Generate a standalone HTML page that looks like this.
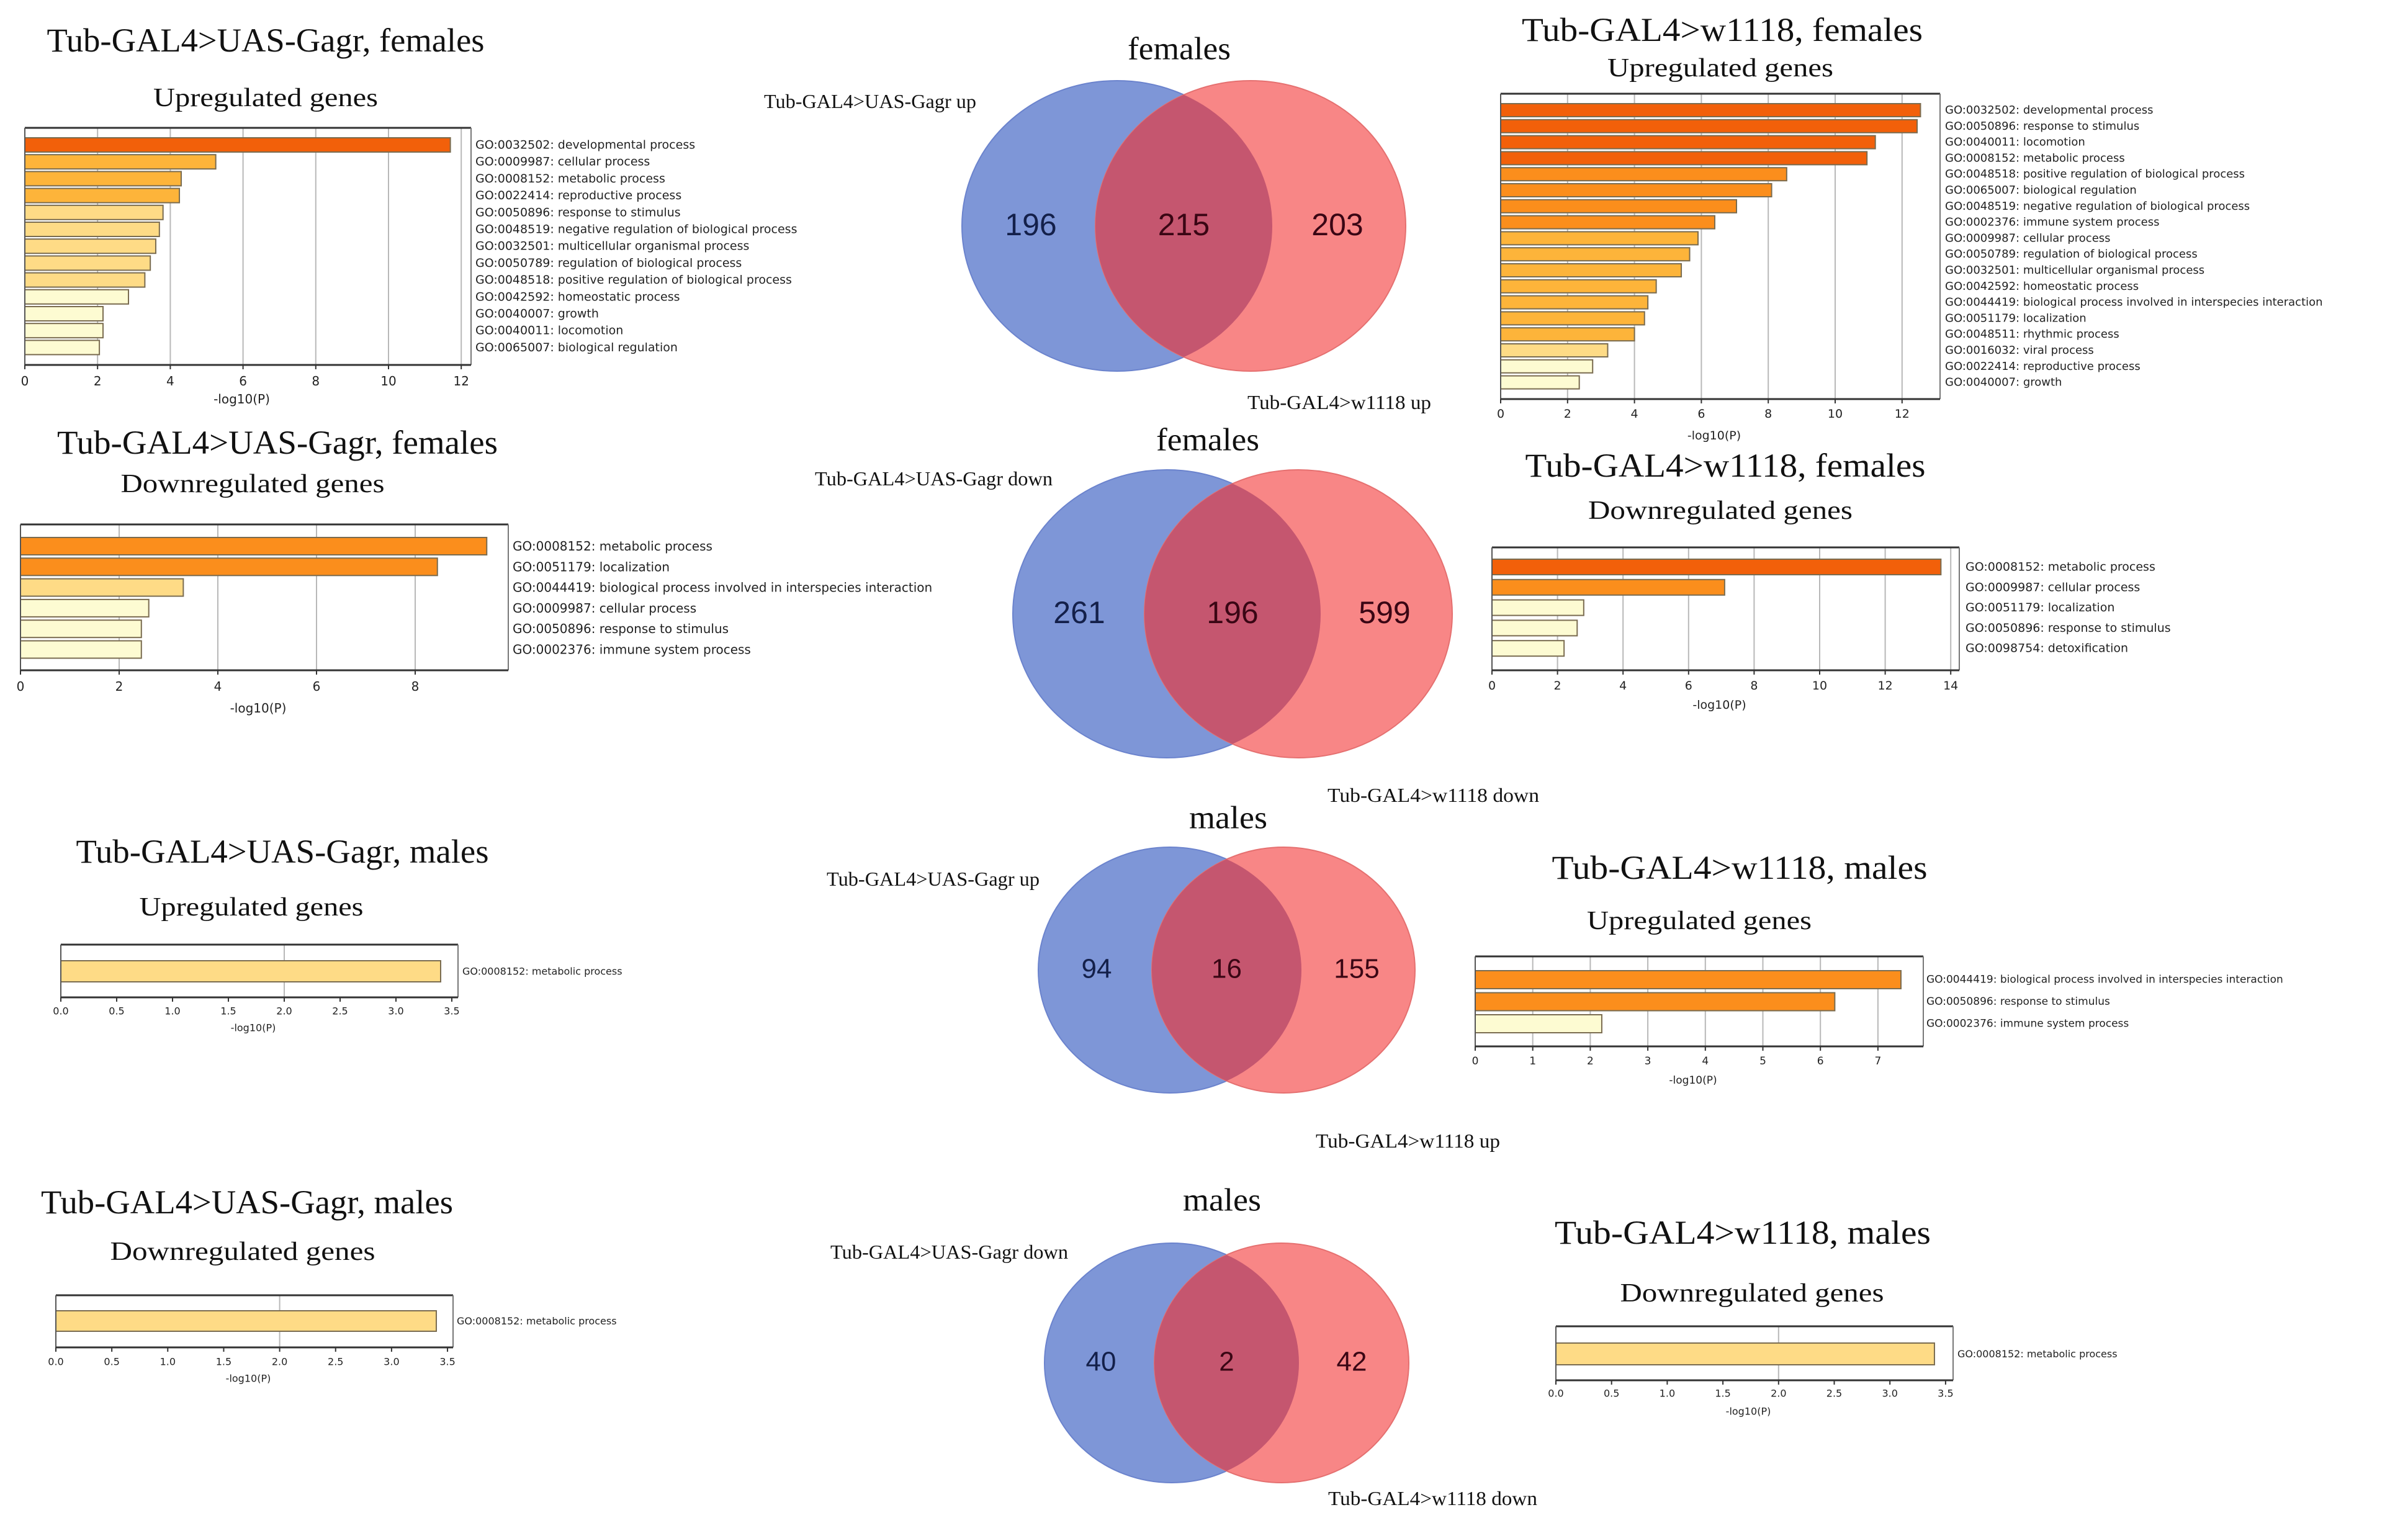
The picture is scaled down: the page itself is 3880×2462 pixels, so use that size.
<!DOCTYPE html>
<html><head><meta charset="utf-8">
<style>
html,body{margin:0;padding:0;background:#fff;}
svg{display:block;}
</style></head>
<body>
<svg id="fig" width="3880" height="2462" viewBox="0 0 3880 2462" xmlns="http://www.w3.org/2000/svg">
<rect width="3880" height="2462" fill="#fff"/>
<defs>
<clipPath id="c1"><ellipse cx="1800" cy="364" rx="250" ry="234"/></clipPath>
<clipPath id="c2"><ellipse cx="1880" cy="989" rx="248" ry="232"/></clipPath>
<clipPath id="c3"><ellipse cx="1885" cy="1563" rx="212" ry="198"/></clipPath>
<clipPath id="c4"><ellipse cx="1888" cy="2196" rx="205" ry="193"/></clipPath>
</defs>
</svg>
<script>
// ===== Data arrays =====
const p1Terms = ["GO:0032502: developmental process","GO:0009987: cellular process","GO:0008152: metabolic process","GO:0022414: reproductive process","GO:0050896: response to stimulus","GO:0048519: negative regulation of biological process","GO:0032501: multicellular organismal process","GO:0050789: regulation of biological process","GO:0048518: positive regulation of biological process","GO:0042592: homeostatic process","GO:0040007: growth","GO:0040011: locomotion","GO:0065007: biological regulation"];
const p1Values = [11.7,5.25,4.3,4.25,3.8,3.7,3.6,3.45,3.3,2.85,2.15,2.15,2.05];
const p1Ticks = [0,2,4,6,8,10,12];
const p1TickLabels = ["0","2","4","6","8","10","12"];

const p2Terms = ["GO:0032502: developmental process","GO:0050896: response to stimulus","GO:0040011: locomotion","GO:0008152: metabolic process","GO:0048518: positive regulation of biological process","GO:0065007: biological regulation","GO:0048519: negative regulation of biological process","GO:0002376: immune system process","GO:0009987: cellular process","GO:0050789: regulation of biological process","GO:0032501: multicellular organismal process","GO:0042592: homeostatic process","GO:0044419: biological process involved in interspecies interaction","GO:0051179: localization","GO:0048511: rhythmic process","GO:0016032: viral process","GO:0022414: reproductive process","GO:0040007: growth"];
const p2Values = [12.55,12.45,11.2,10.95,8.55,8.1,7.05,6.4,5.9,5.65,5.4,4.65,4.4,4.3,4.0,3.2,2.75,2.35];
const p2Ticks = [0,2,4,6,8,10,12];
const p2TickLabels = ["0","2","4","6","8","10","12"];

const p3Terms = ["GO:0008152: metabolic process","GO:0051179: localization","GO:0044419: biological process involved in interspecies interaction","GO:0009987: cellular process","GO:0050896: response to stimulus","GO:0002376: immune system process"];
const p3Values = [9.45,8.45,3.3,2.6,2.45,2.45];
const p3Ticks = [0,2,4,6,8];
const p3TickLabels = ["0","2","4","6","8"];

const p4Terms = ["GO:0008152: metabolic process","GO:0009987: cellular process","GO:0051179: localization","GO:0050896: response to stimulus","GO:0098754: detoxification"];
const p4Values = [13.7,7.1,2.8,2.6,2.2];
const p4Ticks = [0,2,4,6,8,10,12,14];
const p4TickLabels = ["0","2","4","6","8","10","12","14"];

const p5Terms = ["GO:0008152: metabolic process"];
const p5Values = [3.4];
const p5Ticks = [0,0.5,1,1.5,2,2.5,3,3.5];
const p5TickLabels = ["0.0","0.5","1.0","1.5","2.0","2.5","3.0","3.5"];

const p6Terms = ["GO:0044419: biological process involved in interspecies interaction","GO:0050896: response to stimulus","GO:0002376: immune system process"];
const p6Values = [7.4,6.25,2.2];
const p6Ticks = [0,1,2,3,4,5,6,7];
const p6TickLabels = ["0","1","2","3","4","5","6","7"];

const p7Terms = ["GO:0008152: metabolic process"];
const p7Values = [3.4];
const p7Ticks = [0,0.5,1,1.5,2,2.5,3,3.5];
const p7TickLabels = ["0.0","0.5","1.0","1.5","2.0","2.5","3.0","3.5"];

const p8Terms = ["GO:0008152: metabolic process"];
const p8Values = [3.4];
const p8Ticks = [0,0.5,1,1.5,2,2.5,3,3.5];
const p8TickLabels = ["0.0","0.5","1.0","1.5","2.0","2.5","3.0","3.5"];

const vennCounts1 = [196,215,203];
const vennCounts2 = [261,196,599];
const vennCounts3 = [94,16,155];
const vennCounts4 = [40,2,42];

// ===== Helpers =====
const NS = "http://www.w3.org/2000/svg";
const svg = document.getElementById('fig');
function mk(tag, attrs, parent){
  const e = document.createElementNS(NS, tag);
  for (const k in attrs) e.setAttribute(k, attrs[k]);
  (parent||svg).appendChild(e);
  return e;
}
function txt(parent, x, y, s, size, family, anchor, width, fill){
  const t = mk('text', {x:x, y:y, 'font-size':size, 'font-family':family, 'text-anchor':anchor||'start', 'dominant-baseline':'central', fill:fill||'#111'}, parent);
  if (width){ t.setAttribute('textLength', width); t.setAttribute('lengthAdjust','spacingAndGlyphs'); }
  t.textContent = s;
  return t;
}
function barColor(v){
  if (v >= 10) return '#f2600a';
  if (v >= 6) return '#fb8e1c';
  if (v >= 4) return '#fdb43a';
  if (v >= 3) return '#fedb86';
  return '#fdfbd2';
}
const SERIF = '"Liberation Serif", serif';
const SANS = '"DejaVu Sans", "Liberation Sans", sans-serif';

function drawPanel(name, cfg, terms, values, ticks, tickLabels){
  const g = mk('g', {});
  
  
  const tt = txt(g, cfg.tx, cfg.ty, cfg.title, cfg.tfs, SERIF, 'middle', cfg.tw);
  
  
  const st = txt(g, cfg.sx, cfg.sy, cfg.sub, cfg.sfs, SERIF, 'middle', cfg.sw);
  
  
  const unit = cfg.unit;
  const xs = v => cfg.x0 + v * unit;
  ticks.forEach((t, i) => {
    if (!cfg.gridOnly || cfg.gridOnly.indexOf(t) >= 0){
      const gl = mk('line', {x1:xs(t), x2:xs(t), y1:cfg.y0, y2:cfg.y1, stroke:'#b8b8b8', 'stroke-width':2}, g);
      
      
    }
    mk('line', {x1:xs(t), x2:xs(t), y1:cfg.y1, y2:cfg.y1+7, stroke:'#333', 'stroke-width':2}, g);
    const tl = txt(g, xs(t), cfg.tickY, tickLabels[i], cfg.tickFs, SANS, 'middle', null, '#222');
    
    
  });
  values.forEach((v, i) => {
    const top = cfg.barTop + i * cfg.pitch;
    const r = mk('rect', {x:cfg.x0, y:top, width:Math.max(0, xs(v)-cfg.x0), height:cfg.barH, fill:barColor(v), stroke:'#7a6c50', 'stroke-width':2}, g);
    
    
    const lab = txt(g, cfg.labelX, top + cfg.barH/2, terms[i], cfg.labelFs, SANS, 'start', null, '#222');
    
    
  });
  mk('line', {x1:cfg.x0, x2:cfg.x1, y1:cfg.y0, y2:cfg.y0, stroke:'#333', 'stroke-width':3}, g);
  mk('line', {x1:cfg.x1, x2:cfg.x1, y1:cfg.y0, y2:cfg.y1, stroke:'#777', 'stroke-width':2}, g);
  mk('line', {x1:cfg.x0, x2:cfg.x0, y1:cfg.y0, y2:cfg.y1, stroke:'#555', 'stroke-width':2}, g);
  mk('line', {x1:cfg.x0, x2:cfg.x1, y1:cfg.y1, y2:cfg.y1, stroke:'#333', 'stroke-width':3}, g);
  const xl = txt(g, (cfg.x0+cfg.x1)/2 - 10, cfg.xlY, '-log10(P)', cfg.tickFs, SANS, 'middle', null, '#222');
  
  
}

drawPanel('panel-gagr-females-up', {title:'Tub-GAL4>UAS-Gagr, females', tx:428, ty:65, tw:705, tfs:54, sub:'Upregulated genes', sx:428, sy:158, sw:362, sfs:42,
  x0:40, x1:759, y0:206, y1:588, unit:58.6, barTop:222, pitch:27.2, barH:23, labelX:766, labelFs:19, tickY:614, tickFs:20, xlY:643}, p1Terms, p1Values, p1Ticks, p1TickLabels);
drawPanel('panel-w1118-females-up', {title:'Tub-GAL4>w1118, females', tx:2775, ty:48, tw:646, tfs:54, sub:'Upregulated genes', sx:2772, sy:110, sw:364, sfs:42,
  x0:2418, x1:3126, y0:151, y1:643, unit:53.9, barTop:167, pitch:25.8, barH:21, labelX:3134, labelFs:18, tickY:667, tickFs:19, xlY:702}, p2Terms, p2Values, p2Ticks, p2TickLabels);
drawPanel('panel-gagr-females-down', {title:'Tub-GAL4>UAS-Gagr, females', tx:447, ty:713, tw:710, tfs:54, sub:'Downregulated genes', sx:407, sy:780, sw:425, sfs:42,
  x0:33, x1:819, y0:845, y1:1080, unit:79.5, barTop:866, pitch:33.3, barH:28, labelX:826, labelFs:20, tickY:1106, tickFs:20, xlY:1141}, p3Terms, p3Values, p3Ticks, p3TickLabels);
drawPanel('panel-w1118-females-down', {title:'Tub-GAL4>w1118, females', tx:2780, ty:750, tw:645, tfs:54, sub:'Downregulated genes', sx:2772, sy:823, sw:426, sfs:42,
  x0:2404, x1:3157, y0:882, y1:1080, unit:52.8, barTop:901, pitch:32.8, barH:25, labelX:3167, labelFs:19, tickY:1105, tickFs:19, xlY:1136}, p4Terms, p4Values, p4Ticks, p4TickLabels);
drawPanel('panel-gagr-males-up', {title:'Tub-GAL4>UAS-Gagr, males', tx:455, ty:1372, tw:665, tfs:54, sub:'Upregulated genes', sx:405, sy:1462, sw:361, sfs:42, gridOnly:[2],
  x0:98, x1:738, y0:1522, y1:1607, unit:180, barTop:1548, pitch:34, barH:34, labelX:745, labelFs:16, tickY:1629, tickFs:16, xlY:1656}, p5Terms, p5Values, p5Ticks, p5TickLabels);
drawPanel('panel-w1118-males-up', {title:'Tub-GAL4>w1118, males', tx:2803, ty:1398, tw:605, tfs:54, sub:'Upregulated genes', sx:2738, sy:1484, sw:362, sfs:42,
  x0:2377, x1:3099, y0:1541, y1:1686, unit:92.7, barTop:1564, pitch:35.5, barH:29, labelX:3104, labelFs:17, tickY:1710, tickFs:17, xlY:1741}, p6Terms, p6Values, p6Ticks, p6TickLabels);
drawPanel('panel-gagr-males-down', {title:'Tub-GAL4>UAS-Gagr, males', tx:398, ty:1937, tw:664, tfs:54, sub:'Downregulated genes', sx:391, sy:2017, sw:427, sfs:42, gridOnly:[2],
  x0:90, x1:730, y0:2087, y1:2171, unit:180.3, barTop:2112, pitch:33, barH:33, labelX:736, labelFs:16, tickY:2194, tickFs:16, xlY:2221}, p7Terms, p7Values, p7Ticks, p7TickLabels);
drawPanel('panel-w1118-males-down', {title:'Tub-GAL4>w1118, males', tx:2808, ty:1986, tw:606, tfs:54, sub:'Downregulated genes', sx:2823, sy:2084, sw:425, sfs:42, gridOnly:[2],
  x0:2507, x1:3147, y0:2137, y1:2224, unit:179.4, barTop:2164, pitch:35, barH:35, labelX:3154, labelFs:16, tickY:2245, tickFs:16, xlY:2274}, p8Terms, p8Values, p8Ticks, p8TickLabels);

function drawVenn(name, v, counts){
  const g = mk('g', {});
  
  
  const a = mk('ellipse', {cx:v.bx, cy:v.cy, rx:v.rx, ry:v.ry, fill:'#7e96d7', stroke:'#6b83cd', 'stroke-width':2}, g);
  
  
  const b = mk('ellipse', {cx:v.rx2, cy:v.cy, rx:v.rx, ry:v.ry, fill:'#f88686', stroke:'#e57070', 'stroke-width':2}, g);
  
  
  const o = mk('ellipse', {cx:v.rx2, cy:v.cy, rx:v.rx, ry:v.ry, fill:'#c5566f', 'clip-path':'url(#'+v.clip+')'}, g);
  
  
  const xsN = [v.n1, (v.bx+v.rx2)/2, v.n3];
  counts.forEach((c, i) => {
    const t = txt(g, xsN[i], v.cy - 2, String(c), v.nfs, '"Liberation Sans", sans-serif', 'middle', null, i===0 ? '#14204a' : '#3a0614');
    
    
  });
  const tt = txt(g, v.tx, v.ty, v.title, 52, SERIF, 'middle', v.tw);
  
  
  const l1 = txt(g, v.l1x, v.l1y, v.l1, 32, SERIF, 'start', v.l1w);
  
  
  const l2 = txt(g, v.l2x, v.l2y, v.l2, 32, SERIF, 'start', v.l2w);
  
  
}
drawVenn('venn-females-up', {bx:1800, rx2:2015, cy:364, rx:250, ry:234, clip:'c1', n1:1661, n3:2155, nfs:50,
  title:'females', tx:1900, ty:79, tw:166, l1:'Tub-GAL4>UAS-Gagr up', l1x:1231, l1y:163, l1w:342, l2:'Tub-GAL4>w1118 up', l2x:2010, l2y:648, l2w:296}, vennCounts1);
drawVenn('venn-females-down', {bx:1880, rx2:2092, cy:989, rx:248, ry:232, clip:'c2', n1:1739, n3:2231, nfs:50,
  title:'females', tx:1946, ty:709, tw:166, l1:'Tub-GAL4>UAS-Gagr down', l1x:1313, l1y:771, l1w:383, l2:'Tub-GAL4>w1118 down', l2x:2139, l2y:1281, l2w:341}, vennCounts2);
drawVenn('venn-males-up', {bx:1885, rx2:2068, cy:1563, rx:212, ry:198, clip:'c3', n1:1767, n3:2186, nfs:44,
  title:'males', tx:1979, ty:1318, tw:126, l1:'Tub-GAL4>UAS-Gagr up', l1x:1332, l1y:1416, l1w:343, l2:'Tub-GAL4>w1118 up', l2x:2120, l2y:1838, l2w:297}, vennCounts3);
drawVenn('venn-males-down', {bx:1888, rx2:2065, cy:2196, rx:205, ry:193, clip:'c4', n1:1774, n3:2178, nfs:44,
  title:'males', tx:1969, ty:1934, tw:126, l1:'Tub-GAL4>UAS-Gagr down', l1x:1338, l1y:2017, l1w:383, l2:'Tub-GAL4>w1118 down', l2x:2140, l2y:2414, l2w:337}, vennCounts4);
</script>
</body></html>
